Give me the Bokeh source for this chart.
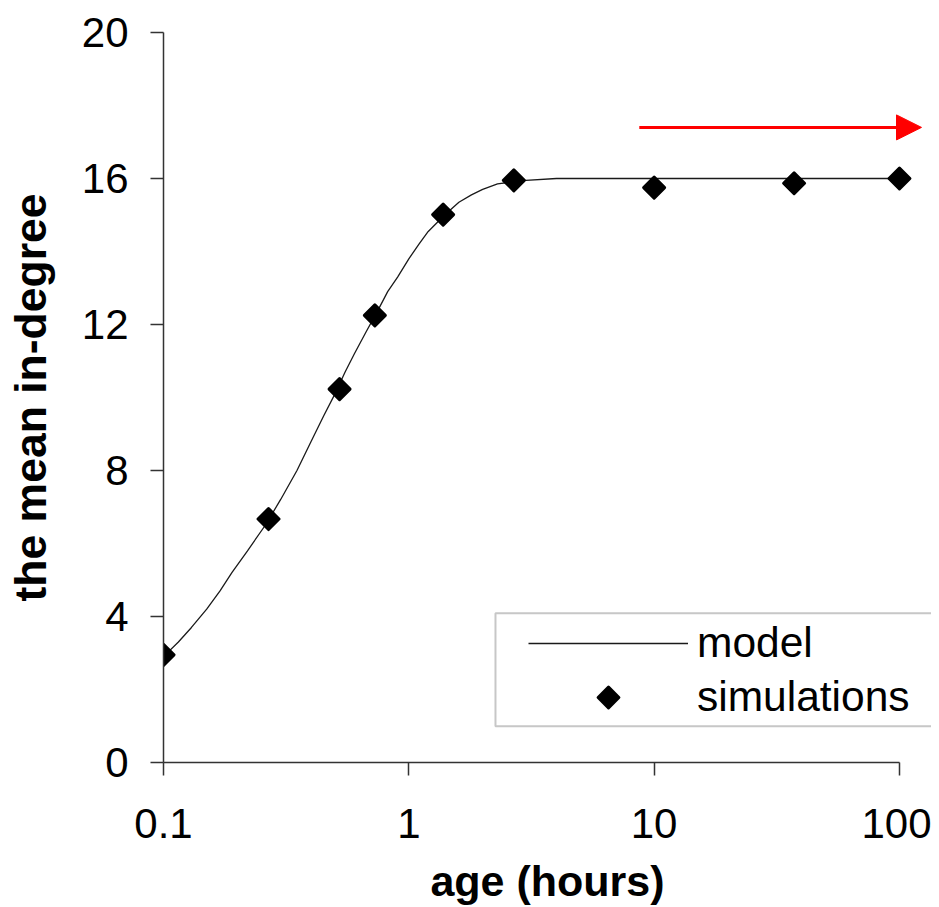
from bokeh.plotting import figure
from bokeh.models import (Range1d, FixedTicker, Legend, LegendItem, Arrow,
                          NormalHead, BoxAnnotation, CustomJS)
from bokeh.embed import file_html
from bokeh.resources import INLINE

# model curve
age_model = [0.1, 0.115, 0.13, 0.15, 0.17, 0.19, 0.22, 0.26, 0.3, 0.35, 0.4,
             0.45, 0.5, 0.55, 0.6, 0.67, 0.75, 0.82, 0.9, 1.0, 1.1, 1.2, 1.4,
             1.6, 1.8, 2.0, 2.3, 2.6, 3.0, 4.0, 6.0, 10, 20, 50, 100]
deg_model = [2.9, 3.3, 3.7, 4.2, 4.7, 5.2, 5.8, 6.5, 7.2, 8.0, 8.8,
             9.5, 10.1, 10.7, 11.2, 11.8, 12.4, 12.9, 13.3, 13.8, 14.2, 14.55, 15.0,
             15.35, 15.55, 15.7, 15.85, 15.9, 15.95, 16.0, 16.0, 16.0, 16.0, 16.0, 16.0]

# simulations
age_sim = [0.1, 0.268, 0.522, 0.727, 1.38, 2.68, 10, 37.2, 100]
deg_sim = [2.95, 6.67, 10.23, 12.25, 15.01, 15.95, 15.75, 15.87, 16.0]

x_ticks = [0.1, 1, 10, 100]
x_tick_labels = ["0.1", "1", "10", "100"]
y_ticks = [0, 4, 8, 12, 16, 20]

# red arrow
arrow_x = [8.7, 123.0]
arrow_y = 17.4

FONT = "Liberation Sans"

p = figure(width=931, height=907, x_axis_type="log",
           x_range=Range1d(0.1, 135.1), y_range=Range1d(0, 20),
           output_backend="svg", toolbar_location=None,
           min_border_left=163, min_border_right=0,
           min_border_top=32, min_border_bottom=140)
p.grid.visible = False
p.outline_line_color = None
p.background_fill_color = "white"
p.border_fill_color = "white"

# square diamond marker (equal width and height), painted directly
diamond_def = CustomJS(code="""
export default (args, obj, {ctx, i, r, visuals}) => {
    ctx.beginPath()
    ctx.moveTo(0, -r)
    ctx.lineTo(r, 0)
    ctx.lineTo(0, r)
    ctx.lineTo(-r, 0)
    ctx.closePath()
    visuals.fill.apply(ctx, i)
    visuals.line.apply(ctx, i)
}
""")

line = p.line(age_model, deg_model, line_color="#1a1a1a", line_width=1.3)
pts = p.scatter(age_sim, deg_sim, marker="@sqdiamond", defs={"@sqdiamond": diamond_def},
                size=21, fill_color="black", line_color="black", line_width=3,
                line_join="round")

for ax in (p.xaxis[0], p.yaxis[0]):
    ax.axis_line_color = "#333333"
    ax.axis_line_width = 1.5
    ax.major_tick_line_color = "#333333"
    ax.major_tick_line_width = 1.5
    ax.major_tick_in = 0
    ax.major_tick_out = 13
    ax.minor_tick_line_color = None
    ax.major_label_text_font = FONT
    ax.major_label_text_font_size = "42px"
    ax.major_label_text_color = "black"
    ax.axis_label_text_font = FONT
    ax.axis_label_text_font_style = "bold"
    ax.axis_label_text_color = "black"

xa = p.xaxis[0]
xa.ticker = FixedTicker(ticks=x_ticks)
xa.major_label_overrides = dict(zip(x_ticks, x_tick_labels))
xa.bounds = (x_ticks[0], x_ticks[-1])
xa.axis_label = "age (hours)"
xa.axis_label_text_font_size = "43px"
xa.major_label_standoff = 33
xa.axis_label_standoff = 16

ya = p.yaxis[0]
ya.ticker = FixedTicker(ticks=y_ticks)
ya.bounds = (y_ticks[0], y_ticks[-1])
ya.axis_label = "the mean in-degree"
ya.axis_label_text_font_size = "44.5px"
ya.major_label_standoff = 22
ya.axis_label_standoff = 24

# legend frame
box = BoxAnnotation(left=2.256, right=1000, bottom=0.995, top=4.09,
                    fill_color="white", fill_alpha=1.0,
                    line_color="#444444", line_width=2, level="annotation")
p.add_layout(box)

legend = Legend(items=[LegendItem(label="model", renderers=[line]),
                       LegendItem(label="simulations", renderers=[pts])],
                location=(365, 39), glyph_width=160, glyph_height=52,
                label_standoff=9, padding=0, spacing=2, margin=0,
                border_line_color=None, background_fill_alpha=0,
                label_text_font=FONT, label_text_font_size="42.5px",
                label_text_color="black")
p.add_layout(legend)

p.add_layout(Arrow(x_start=arrow_x[0], y_start=arrow_y, x_end=arrow_x[1], y_end=arrow_y,
                   line_color="#ff0000", line_width=3,
                   end=NormalHead(size=25, fill_color="#ff0000", line_color="#ff0000")))

open("out.html", "w").write(file_html(p, INLINE))
